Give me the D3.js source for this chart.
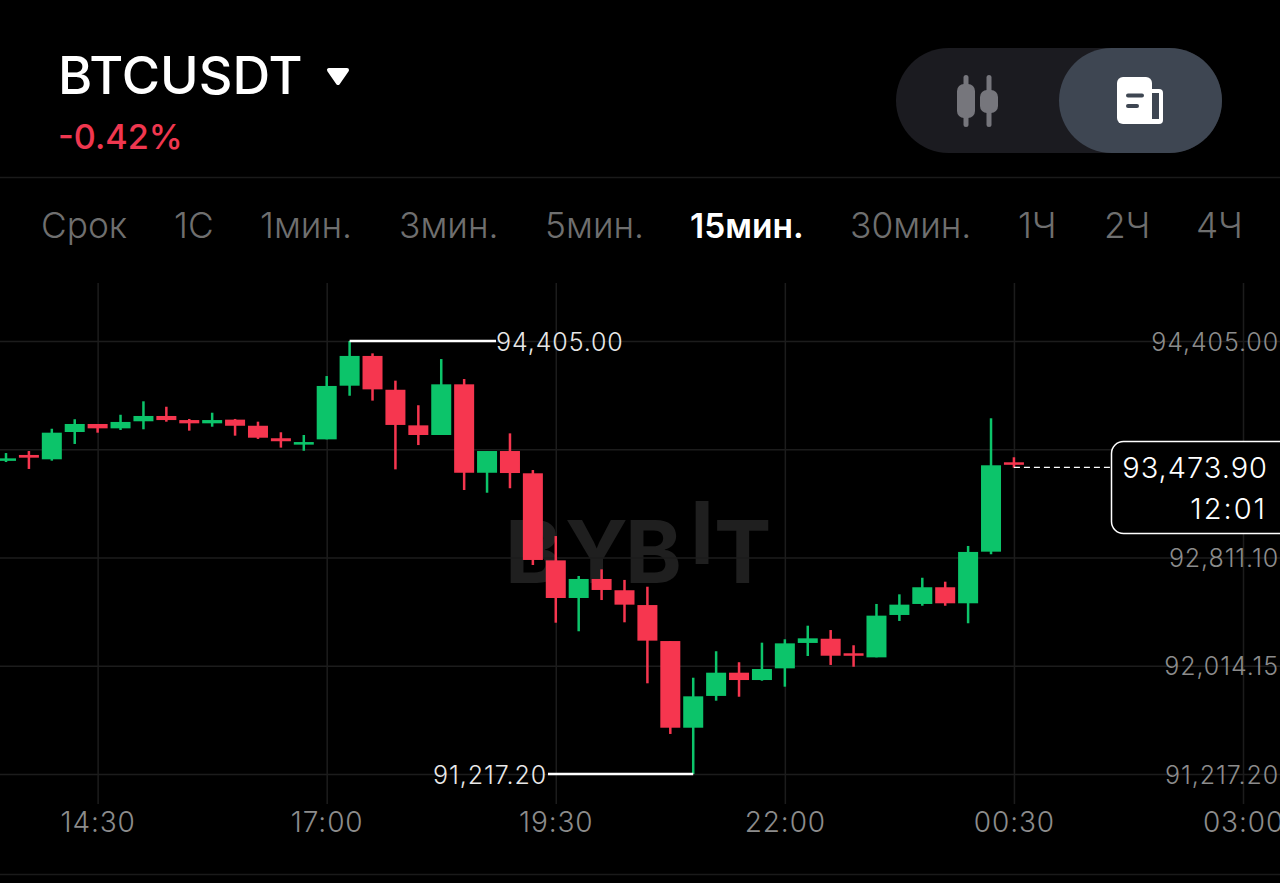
<!DOCTYPE html>
<meta charset="utf-8">
<title>BTCUSDT 15min</title>
<script src="https://d3js.org/d3.v7.min.js"></script>
<style>
  html, body { margin: 0; background: #000; overflow: hidden; }
  svg { display: block; font-family: Inter, "Noto Sans", sans-serif; }
  .axis .domain { display: none; }
  .grid line { stroke: #1c1c1c; stroke-width: 1.5; }
  .axis text { fill: #8c8c8c; font-family: Inter, "Noto Sans", sans-serif; font-size: 25px; font-weight: 300; letter-spacing: 0.9px; }
</style>
<body>
  <svg width="1280" height="883"></svg>
  <script>

    // 15 minute slots on the time axis, the last ten have no candle yet
    var slots = [
      "13:30", "13:45", "14:00", "14:15", "14:30", "14:45", "15:00", "15:15", "15:30", "15:45", "16:00",
      "16:15", "16:30", "16:45", "17:00", "17:15", "17:30", "17:45", "18:00", "18:15", "18:30",
      "18:45", "19:00", "19:15", "19:30", "19:45", "20:00", "20:15", "20:30", "20:45", "21:00",
      "21:15", "21:30", "21:45", "22:00", "22:15", "22:30", "22:45", "23:00", "23:15", "23:30",
      "23:45", "00:00", "00:15", "00:30", "00:45", "01:00", "01:15", "01:30", "01:45", "02:00",
      "02:15", "02:30", "02:45", "03:00"
    ];

    var opens = [
      93524, 93566, 93534, 93735, 93794, 93762, 93814, 93853, 93823, 93799, 93826, 93781, 93689, 93642, 93681,
      94076, 94295, 94046, 93784, 93713, 94086, 93435, 93595, 93431, 92790, 92513, 92653, 92570, 92461, 92196,
      91558, 91792, 91963, 91909, 91995, 92182, 92213, 92106, 92076, 92388, 92469, 92592, 92474, 92854, 93512
    ];
    var highs = [
      93580, 93595, 93759, 93829, 93794, 93862, 93961, 93921, 93831, 93877, 93831, 93811, 93733, 93713, 94147,
      94405, 94314, 94113, 93932, 94272, 94125, 93595, 93725, 93455, 92969, 92675, 92724, 92646, 92596, 92196,
      91926, 92121, 92040, 92184, 92209, 92309, 92277, 92165, 92469, 92540, 92662, 92633, 92896, 93836, 93549
    ];
    var lows = [
      93514, 93463, 93524, 93647, 93730, 93750, 93755, 93811, 93745, 93774, 93708, 93684, 93620, 93597, 93681,
      94002, 93966, 93460, 93639, 93713, 93308, 93288, 93321, 92756, 92331, 92268, 92498, 92334, 91885, 91512,
      91217.2, 91757, 91786, 91904, 91860, 92086, 92020, 92007, 92076, 92344, 92456, 92456, 92327, 92835, 93472
    ];
    var closes = [
      93541, 93546, 93730, 93794, 93762, 93809, 93853, 93823, 93799, 93823, 93781, 93693, 93667, 93661, 94074,
      94295, 94049, 93787, 93713, 94086, 93435, 93595, 93433, 92793, 92513, 92653, 92572, 92464, 92199, 91558,
      91789, 91963, 91909, 91990, 92179, 92216, 92088, 92088, 92383, 92464, 92592, 92474, 92852, 93490, 93500
    ];

    var priceTicks = [94405, 93608.05, 92811.1, 92014.15, 91217.2];
    var timeTicks = ["14:30", "17:00", "19:30", "22:00", "00:30", "03:00"];
    var periods = ["Срок", "1С", "1мин.", "3мин.", "5мин.", "15мин.", "30мин.", "1Ч", "2Ч", "4Ч"];
    var periodStart = [41, 174, 260, 399, 545, 690, 850, 1018, 1104, 1196];
    var activePeriod = "15мин.";
    var highMark = {slot: "17:15", price: 94405};
    var lowMark = {slot: "21:00", price: 91217.2};
    var lastPrice = 93473.9;
    var countdown = "12:01";

    var green = "#0cc46a", red = "#f6364f";

    var data = opens.map(function(d, i) {
      return {slot: slots[i], open: d, high: highs[i], low: lows[i], close: closes[i]};
    });

    var svg = d3.select("svg");
    var priceFormat = d3.format(",.2f");

    svg.append("rect").attr("width", 1280).attr("height", 883).attr("fill", "#000");

    // Scales
    var x = d3.scalePoint().domain(slots).range([6, 1243]);
    var y = d3.scaleLinear().domain([91217.2, 94405]).range([774, 341]);

    // Header
    svg.append("text").attr("x", 58).attr("y", 94)
        .attr("fill", "#fff").attr("font-size", 52.2).attr("font-weight", 500)
        .text("BTCUSDT");
    svg.append("path").attr("d", "M329,70 L347,70 L338,83 Z")
        .attr("fill", "#fff").attr("stroke", "#fff").attr("stroke-width", 4).attr("stroke-linejoin", "round");
    svg.append("text").attr("x", 58).attr("y", 149)
        .attr("fill", "#f0374f").attr("font-size", 34.2).attr("font-weight", 500)
        .text("-0.42%");

    // Toggle top right
    svg.append("rect").attr("x", 896).attr("y", 48).attr("width", 326).attr("height", 105).attr("rx", 52.5).attr("fill", "#1b1b20");
    svg.append("rect").attr("x", 1059).attr("y", 48).attr("width", 163).attr("height", 105).attr("rx", 52.5).attr("fill", "#3e4652");

    var icon = svg.append("g").attr("fill", "#76767c");
    icon.append("rect").attr("x", 963.5).attr("y", 75).attr("width", 5).attr("height", 52).attr("rx", 2.5);
    icon.append("rect").attr("x", 957).attr("y", 84).attr("width", 18).attr("height", 34).attr("rx", 7);
    icon.append("rect").attr("x", 986.5).attr("y", 75).attr("width", 5).attr("height", 52).attr("rx", 2.5);
    icon.append("rect").attr("x", 980).attr("y", 90).attr("width", 18).attr("height", 23).attr("rx", 7);

    var doc = svg.append("g");
    doc.append("rect").attr("x", 1140).attr("y", 89).attr("width", 23).attr("height", 35).attr("rx", 4).attr("fill", "#fff");
    doc.append("rect").attr("x", 1152).attr("y", 93).attr("width", 7).attr("height", 26).attr("fill", "#3e4652");
    doc.append("rect").attr("x", 1117).attr("y", 77).attr("width", 35).attr("height", 47).attr("rx", 6).attr("fill", "#fff");
    doc.append("rect").attr("x", 1126).attr("y", 93.5).attr("width", 18).attr("height", 4).attr("rx", 2).attr("fill", "#3e4652");
    doc.append("rect").attr("x", 1126).attr("y", 104).attr("width", 13).attr("height", 4).attr("rx", 2).attr("fill", "#3e4652");

    // Separators
    svg.append("line").attr("x1", 0).attr("x2", 1280).attr("y1", 177.5).attr("y2", 177.5).attr("stroke", "#1a1a1a").attr("stroke-width", 1.5);
    svg.append("line").attr("x1", 0).attr("x2", 1280).attr("y1", 874.5).attr("y2", 874.5).attr("stroke", "#1a1a1a").attr("stroke-width", 1.5);

    // Period tabs
    svg.selectAll(".period")
      .data(periods)
      .enter().append("text")
        .attr("class", "period")
        .attr("x", function(d, i) { return periodStart[i]; })
        .attr("y", 238)
        .attr("font-size", function(d) { return d === activePeriod ? 33.5 : 35.3; })
        .attr("font-weight", function(d) { return d === activePeriod ? 600 : 300; })
        .attr("fill", function(d) { return d === activePeriod ? "#fff" : "#6f6f6f"; })
        .text(function(d) { return d; });

    // Watermark
    var mark = svg.append("g").attr("fill", "#1f1f1f").attr("font-size", 86).attr("font-weight", 700);
    mark.append("text").attr("x", 505).attr("y", 583).text("B");
    mark.append("text").attr("x", 565).attr("y", 583).text("Y");
    mark.append("text").attr("x", 625).attr("y", 583).text("B");
    mark.append("text").attr("x", 690).attr("y", 564).text("I");
    mark.append("text").attr("x", 714).attr("y", 583).text("T");

    // Axes, their ticks are the grid
    svg.append("g")
        .attr("class", "axis grid")
        .attr("transform", "translate(0,804)")
        .call(d3.axisBottom(x).tickValues(timeTicks).tickSize(-521).tickPadding(8))
      .selectAll("text")
        .style("font-size", "28px");

    svg.append("g")
        .attr("class", "axis grid")
        .attr("transform", "translate(1280,0)")
        .call(d3.axisRight(y)
          .tickValues(priceTicks)
          .tickSize(-1280)
          .tickPadding(0)
          .tickFormat(function(d) { return d === 93608.05 ? "" : priceFormat(d); }))
      .selectAll("text")
        .attr("x", -1)
        .attr("y", 1)
        .attr("text-anchor", "end");

    // Candles
    var candle = svg.selectAll(".candle")
      .data(data)
      .enter().append("g")
        .attr("class", "candle")
        .attr("fill", function(d) { return d.close >= d.open ? green : red; });

    candle.append("rect")
        .attr("x", function(d) { return x(d.slot) - 1.25; })
        .attr("width", 2.5)
        .attr("y", function(d) { return y(d.high); })
        .attr("height", function(d) { return y(d.low) - y(d.high); });

    candle.append("rect")
        .attr("x", function(d) { return x(d.slot) - 10; })
        .attr("width", 20)
        .attr("y", function(d) { return y(Math.max(d.open, d.close)); })
        .attr("height", function(d) { return Math.max(2.5, Math.abs(y(d.open) - y(d.close))); });

    // High and low markers
    svg.append("line")
        .attr("x1", x(highMark.slot)).attr("x2", 496)
        .attr("y1", y(highMark.price)).attr("y2", y(highMark.price))
        .attr("stroke", "#fff").attr("stroke-width", 2.5);
    svg.append("text")
        .attr("x", 496).attr("y", y(highMark.price) + 10)
        .attr("fill", "#e8e8e8").attr("font-size", 25).attr("font-weight", 300).attr("letter-spacing", 0.9)
        .text(priceFormat(highMark.price));

    svg.append("line")
        .attr("x1", x(lowMark.slot)).attr("x2", 548)
        .attr("y1", y(lowMark.price)).attr("y2", y(lowMark.price))
        .attr("stroke", "#fff").attr("stroke-width", 2.5);
    svg.append("text")
        .attr("x", 547).attr("y", y(lowMark.price) + 10)
        .attr("text-anchor", "end")
        .attr("fill", "#e8e8e8").attr("font-size", 25).attr("font-weight", 300).attr("letter-spacing", 0.9)
        .text(priceFormat(lowMark.price));

    // Last price line and box
    svg.append("line")
        .attr("x1", x("00:30")).attr("x2", 1111)
        .attr("y1", y(lastPrice)).attr("y2", y(lastPrice))
        .attr("stroke", "#fff").attr("stroke-width", 1.2).attr("stroke-dasharray", "6 4");
    svg.append("rect")
        .attr("x", 1111.5).attr("y", 441.5).attr("width", 190).attr("height", 92).attr("rx", 12)
        .attr("fill", "#000").attr("stroke", "#fff").attr("stroke-width", 1.5);
    svg.append("text")
        .attr("x", 1268).attr("y", 478)
        .attr("text-anchor", "end").attr("fill", "#fff").attr("font-size", 29).attr("font-weight", 300).attr("letter-spacing", 1)
        .text(priceFormat(lastPrice));
    svg.append("text")
        .attr("x", 1267).attr("y", 519)
        .attr("text-anchor", "end").attr("fill", "#fff").attr("font-size", 29).attr("font-weight", 300).attr("letter-spacing", 2)
        .text(countdown);

  </script>
</body>
